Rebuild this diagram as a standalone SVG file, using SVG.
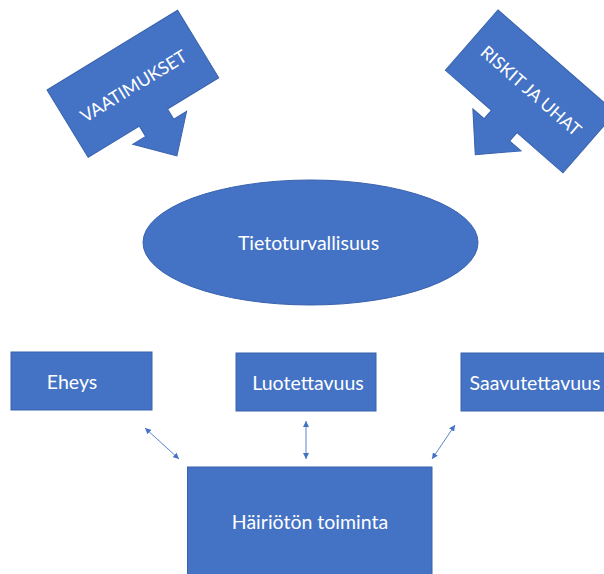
<svg xmlns="http://www.w3.org/2000/svg" width="604" height="574" viewBox="0 0 604 574">
<style>
.shape{fill:#4472C4;stroke:#3A63AE;stroke-width:1}
.lbl{fill:#FFFFFF;font-family:Lato,"Open Sans","Liberation Sans",sans-serif;text-anchor:middle;dominant-baseline:central}
.con{stroke:#5B84CC;stroke-width:1;fill:none;marker-start:url(#ah);marker-end:url(#ah)}
</style>
<defs>
<marker id="ah" viewBox="0 0 10 10" refX="10" refY="5" markerWidth="6" markerHeight="6" markerUnits="userSpaceOnUse" orient="auto-start-reverse">
<path d="M0,0 L10,5 L0,10 Z" fill="#4472C4"/>
</marker>
</defs>
<rect width="604" height="574" fill="#FFFFFF"/>
<g id="vaatimukset" transform="translate(47,90) rotate(-31.4)">
<path class="shape" d="M0,0 H153 V79 H93 V91 H108 L76.5,124 L45,91 H60 V79 H0 Z"/>
<text class="lbl" x="76" y="41" font-size="17.8">VAATIMUKSET</text>
</g>
<g id="riskit" transform="translate(498,10) rotate(41.1)">
<path class="shape" d="M0,0 H156 V80 H95 V91 H110 L78,124 L46,91 H61 V80 H0 Z"/>
<text class="lbl" x="78" y="39" font-size="17.6">RISKIT JA UHAT</text>
</g>
<g id="tietoturvallisuus">
<ellipse class="shape" cx="310.5" cy="242.5" rx="167.5" ry="62.5"/>
<text class="lbl" x="308.5" y="242" font-size="19.5">Tietoturvallisuus</text>
</g>
<g id="eheys">
<rect class="shape" x="11" y="352" width="141" height="58"/>
<text class="lbl" x="72" y="381" font-size="19.5">Eheys</text>
</g>
<g id="luotettavuus">
<rect class="shape" x="236" y="353" width="140" height="58"/>
<text class="lbl" x="308" y="382" font-size="19.5">Luotettavuus</text>
</g>
<g id="saavutettavuus">
<rect class="shape" x="461" y="353" width="150" height="58"/>
<text class="lbl" x="535" y="382" font-size="19.5">Saavutettavuus</text>
</g>
<g id="hairioton">
<rect class="shape" x="187.5" y="467" width="244.5" height="115"/>
<text class="lbl" x="310" y="521.5" font-size="19.5">Häiriötön toiminta</text>
</g>
<g id="connectors">
<line class="con" x1="145" y1="428" x2="179" y2="459"/>
<line class="con" x1="306" y1="421" x2="306" y2="459"/>
<line class="con" x1="455" y1="425" x2="432" y2="459"/>
</g>
</svg>
